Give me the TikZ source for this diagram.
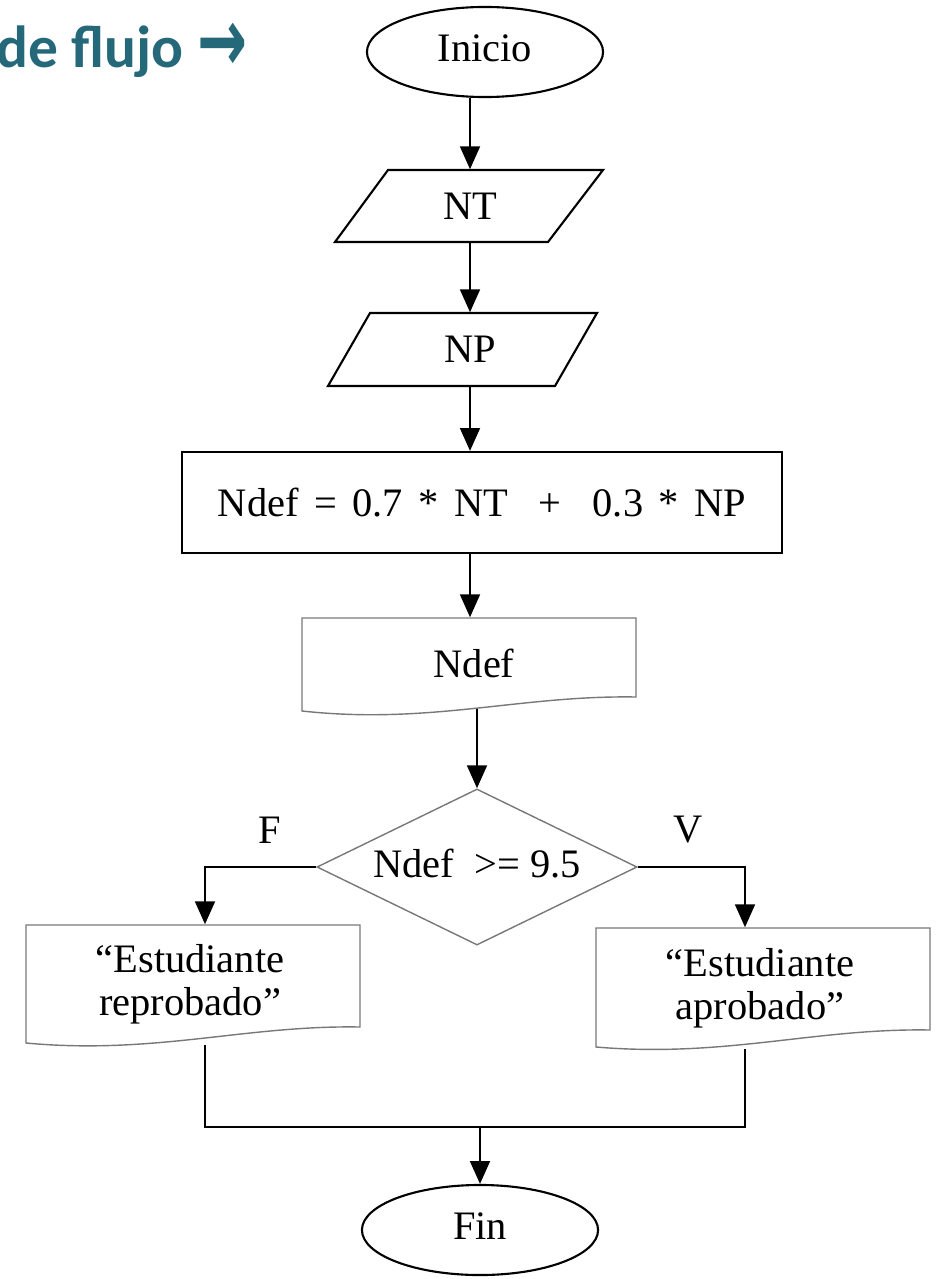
\documentclass[tikz,border=0pt]{standalone}
\usepackage{fontspec}
\usepackage{graphicx}
\setmainfont{Liberation Serif}
\newfontfamily\titlefont{Carlito}
\newfontfamily\arrowfont{DejaVu Sans}
\usetikzlibrary{shapes.geometric,arrows.meta,calc}
\definecolor{teal1}{RGB}{36,104,122}
\definecolor{gline}{RGB}{120,120,120}
\newcommand\myspc{\hspace{4.4pt}}
\begin{document}
\begin{tikzpicture}[x=0.01cm,y=-0.01cm,
  every node/.style={font=\fontsize{11.5}{12.3}\selectfont, inner sep=0pt},
  blk/.style={draw=black, line width=0.6pt},
  gry/.style={draw=gline, line width=0.4pt},
  conn/.style={draw=black, line width=0.75pt},
  arr/.style={conn, -{Triangle[length=6.5pt,width=5.6pt]}},
  term/.style={ellipse, blk, minimum width=2.36cm, minimum height=0.9cm},
  plain/.style={rectangle, draw=none},
]
\useasboundingbox (0,0) rectangle (939,1279);

% title
\node[anchor=base west, text=teal1, font=\titlefont\bfseries\fontsize{16.9}{20}\selectfont] (title) at (-4,68) {de flujo};
\node[anchor=center, text=teal1, font=\arrowfont\bfseries\fontsize{17}{20}\selectfont] (tarrow) at (223,47) {\scalebox{1}[1.5]{→}};

\coordinate (col) at (470,0);

% start
\node[term] (inicio) at (485,52) {\raisebox{2pt}{Inicio}\hspace{6pt}};

% NT input
\draw[blk] (388,170) -- (603,170) -- (548,242) -- (335,242) -- cycle;
\node[plain, minimum width=1.5cm, minimum height=0.72cm] (nt) at (470,206) {NT};

% NP input
\draw[blk] (370,313) -- (597,313) -- (555,386) -- (328,386) -- cycle;
\node[plain, minimum width=1.5cm, minimum height=0.73cm] (np) at (470,349.5) {NP};

% process
\node[blk, rectangle, minimum width=6cm, minimum height=1.01cm] (calc) at (482,502.5)
  {Ndef\myspc=\myspc0.7\myspc*\myspc NT\myspc\myspc+\myspc\myspc0.3\myspc*\myspc NP\hspace{5.7pt}};

% Ndef output (document)
\draw[gry] (302,618) -- (636,618) -- (636,697) .. controls (520,695) and (430,725) .. (302,711) -- cycle;
\node[plain, minimum width=3.34cm, minimum height=0.9cm] (ndef) at (474,663) {Ndef};

% decision
\node[diamond, gry, shape aspect=2.05, minimum width=3.2cm, minimum height=1.56cm] (dec) at (477,867) {\raisebox{2pt}{Ndef\ \ >=\ 9.5}};
\node (lf) at (270,830) {F};
\node (lv) at (688,830) {V};
\coordinate (fl) at (205,867);
\coordinate (fr) at (745,867);

% left document
\draw[gry] (26,925) -- (360,925) -- (360,1027) .. controls (245,1025) and (155,1055) .. (26,1043) -- cycle;
\node[plain, align=center, minimum width=3.34cm, minimum height=1.19cm] (rep) at (190,984.5) {“Estudiante\\reprobado”};

% right document
\draw[gry] (596,928) -- (930,928) -- (930,1030) .. controls (815,1028) and (725,1058) .. (596,1047) -- cycle;
\node[plain, align=center, minimum width=3.34cm, minimum height=1.2cm] (apr) at (760,988) {“Estudiante\\aprobado”};

% end
\node[term] (fin) at (480,1230) {\raisebox{2pt}{Fin}};
\coordinate (jl) at (205,1127);
\coordinate (jr) at (745,1127);

% connectors
\draw[arr] (inicio.south -| col) -- (nt.north -| col);
\draw[arr] (nt.south -| col) -- (np.north -| col);
\draw[arr] (np.south -| col) -- (calc.north -| col);
\draw[arr] (calc.south -| col) -- (ndef.north -| col);
\draw[arr] (ndef.south -| dec.north) -- (dec.north);
\draw[arr] (dec.west) -- (fl) -- (fl |- rep.north);
\draw[arr] (dec.east) -- (fr) -- (fr |- apr.north);
\draw[conn] (jl |- rep.south) -- (jl) -- (jr) -- (jr |- apr.south);
\draw[arr] (fin.north |- jl) -- (fin.north);
\end{tikzpicture}
\end{document}
